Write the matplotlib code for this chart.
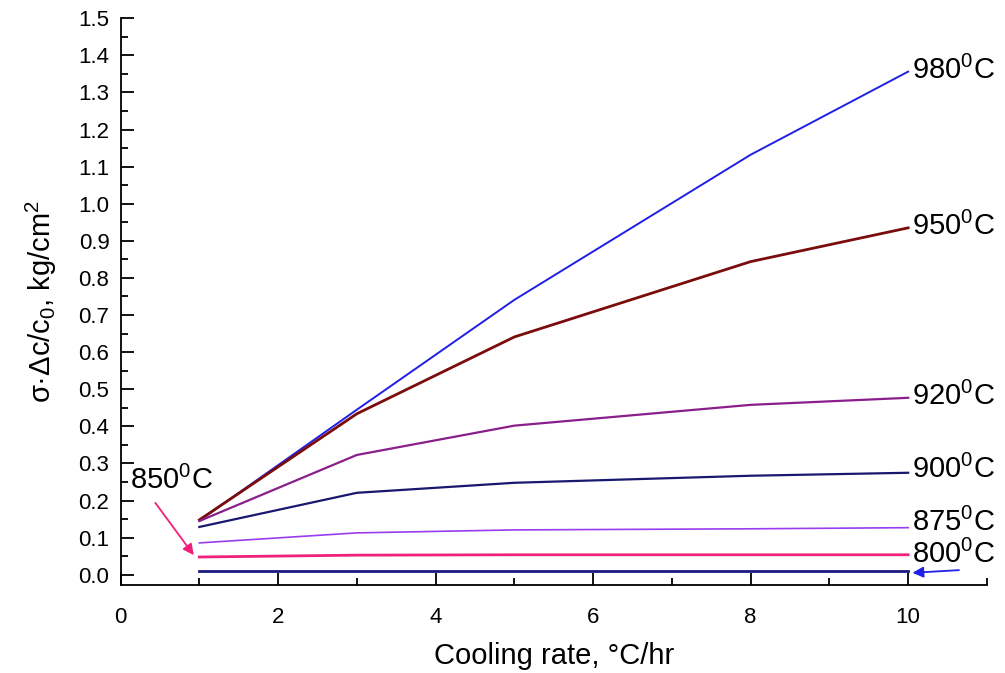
import matplotlib
matplotlib.use("Agg")
import matplotlib.pyplot as plt
from matplotlib.ticker import MultipleLocator

plt.rcParams['font.family'] = ['Liberation Sans', 'DejaVu Sans']
plt.rcParams['mathtext.fontset'] = 'custom'
plt.rcParams['mathtext.rm'] = 'Liberation Sans'
plt.rcParams['mathtext.it'] = 'Liberation Sans:italic'

# data
rate = [1, 3, 5, 8, 10]
t980 = [0.146, 0.445, 0.741, 1.132, 1.356]
t950 = [0.148, 0.434, 0.641, 0.844, 0.935]
t920 = [0.145, 0.323, 0.402, 0.458, 0.477]
t900 = [0.129, 0.221, 0.248, 0.267, 0.275]
t875 = [0.086, 0.113, 0.121, 0.124, 0.127]
t850 = [0.048, 0.053, 0.054, 0.054, 0.054]
t800 = [0.010, 0.010, 0.010, 0.010, 0.010]

series = [
    (t980, '#1f1fe6', 1.4),
    (t950, '#7a0c0c', 2.0),
    (t920, '#8a1e8a', 1.6),
    (t900, '#18186e', 1.6),
    (t875, '#9a3cf0', 1.2),
    (t850, '#f0207a', 2.0),
    (t800, '#1a1a80', 2.0),
]
# label y positions (right side)
lab_names = ['980', '950', '920', '900', '875', '800']
lab_y = [1.36, 0.94, 0.48, 0.285, 0.14, 0.055]

fig = plt.figure(figsize=(10.05, 6.73), dpi=100)
ax = fig.add_axes([0.12, 0.131, 0.862, 0.842])

for vals, col, lw in series:
    ax.plot(rate, vals, color=col, lw=lw)

for name, yy in zip(lab_names, lab_y):
    ax.text(10.05, yy, name + '$^0$C', fontsize=21, va='center', ha='left')

ax.text(0.12, 0.255, '850$^0$C', fontsize=21, va='center', ha='left')
ax.annotate('', xy=(0.95, 0.047), xytext=(0.42, 0.2),
            arrowprops=dict(arrowstyle='-|>', color='#f0207a', lw=1.3, mutation_scale=16))
ax.annotate('', xy=(10.02, 0.005), xytext=(10.68, 0.013),
            arrowprops=dict(arrowstyle='-|>', color='#1f1fe6', lw=1.3, mutation_scale=16),
            annotation_clip=False)

ax.set_xlim(0, 11)
ax.set_ylim(-0.027, 1.5)
ax.spines['top'].set_visible(False)
ax.spines['right'].set_visible(False)
ax.spines['left'].set_linewidth(1.3)
ax.spines['bottom'].set_linewidth(1.3)

ax.xaxis.set_major_locator(MultipleLocator(2))
ax.xaxis.set_minor_locator(MultipleLocator(1))
ax.yaxis.set_minor_locator(MultipleLocator(0.05))
ax.set_yticks([i / 10 for i in range(16)])
ax.set_yticklabels(['%.1f' % (i / 10) for i in range(16)])
ax.tick_params(which='major', direction='in', length=9, width=1.3, labelsize=16)
ax.tick_params(which='minor', direction='in', length=5, width=1.3)
ax.tick_params(axis='x', pad=16)
ax.tick_params(axis='y', pad=8)

ax.set_xlabel('Cooling rate, °C/hr', fontsize=21, labelpad=10)
ax.set_ylabel('σ·Δc/c$_0$, kg/cm$^2$', fontsize=21, labelpad=14)

fig.savefig('out.png', dpi=100)
